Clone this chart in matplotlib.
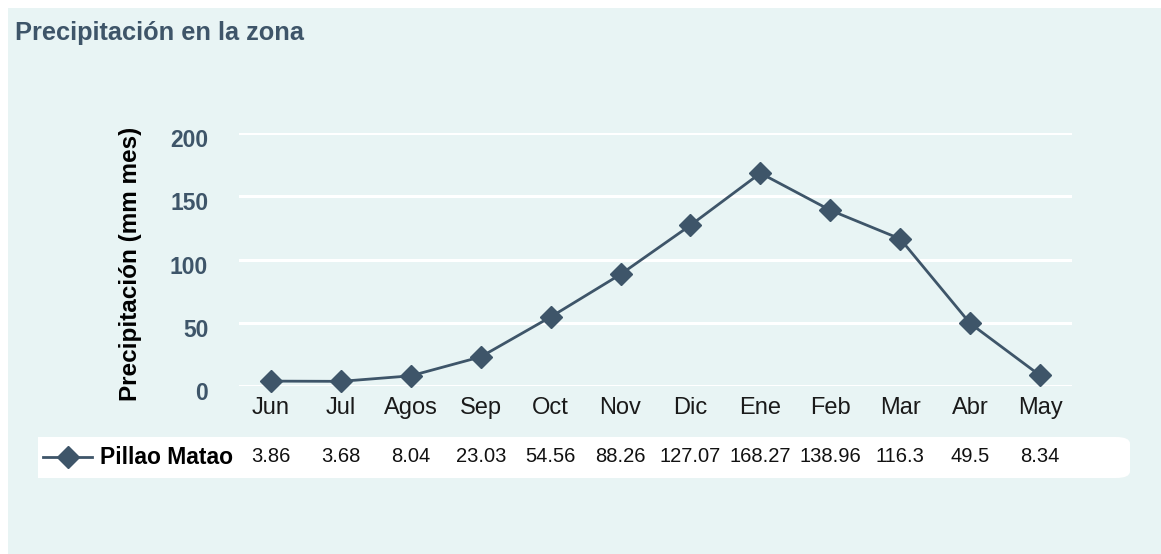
import matplotlib
matplotlib.use('Agg')
import matplotlib.pyplot as plt
from matplotlib import transforms
from matplotlib.patches import Rectangle, FancyBboxPatch
from matplotlib.lines import Line2D

# data
months = ['Jun', 'Jul', 'Agos', 'Sep', 'Oct', 'Nov', 'Dic', 'Ene', 'Feb', 'Mar', 'Abr', 'May']
precip = [3.86, 3.68, 8.04, 23.03, 54.56, 88.26, 127.07, 168.27, 138.96, 116.3, 49.5, 8.34]
value_labels = ['3.86', '3.68', '8.04', '23.03', '54.56', '88.26', '127.07',
                '168.27', '138.96', '116.3', '49.5', '8.34']
series_name = 'Pillao Matao'
yticks = [0, 50, 100, 150, 200]

W, H = 1161, 554
slate = '#3e5569'
panel = '#e8f4f4'

plt.rcParams['font.family'] = ['Liberation Sans', 'DejaVu Sans']

fig = plt.figure(figsize=(W / 100, H / 100), dpi=100)
fig.patch.set_facecolor('white')


def fx(px):
    return px / W


def fy(py):
    return (H - py) / H


# light panel behind everything
fig.patches.append(Rectangle((fx(8), 0), 1 - fx(8), fy(8), transform=fig.transFigure,
                             facecolor=panel, edgecolor='none', zorder=-10))

fig.text(fx(15), fy(33), 'Precipitación en la zona', fontsize=18.3, fontweight='bold',
         color=slate, va='center', ha='left')

# main axes
ax = fig.add_axes([fx(236), fy(386), fx(1075) - fx(236), fy(133) - fy(386)])
ax.set_facecolor('none')
x = list(range(len(months)))
ax.plot(x, precip, color=slate, lw=2, marker='D', markersize=11.5, clip_on=False, zorder=3)
ax.set_xlim(-0.5, len(months) - 0.5)
ax.set_ylim(0, 200)
ax.set_yticks(yticks)
for v in yticks:
    ax.axhline(v, xmin=0.005, xmax=0.994, color='white', lw=2.2, zorder=1)
for s in ax.spines.values():
    s.set_visible(False)
ax.set_xticks(x)
ax.set_xticklabels(months, fontsize=17, color='#1a1a1a')
ax.tick_params(axis='x', length=0, pad=8)
ax.tick_params(axis='y', length=0, pad=20, labelsize=16.5, labelcolor=slate)
down = transforms.ScaledTranslation(0, -5 / 100, fig.dpi_scale_trans)
for lab in ax.get_yticklabels():
    lab.set_fontweight('bold')
    lab.set_transform(lab.get_transform() + down)

fig.text(fx(130), fy(264), 'Precipitación (mm mes)', rotation=90, fontsize=17.5,
         fontweight='bold', color='black', ha='center', va='center')

# data table row
fig.patches.append(Rectangle((fx(38), fy(478)), fx(1100) - fx(38), fy(437) - fy(478),
                             transform=fig.transFigure, facecolor='white', edgecolor='none', zorder=1))
fig.patches.append(FancyBboxPatch((fx(1080), fy(478)), fx(1130) - fx(1080), fy(437) - fy(478),
                                  boxstyle='round,pad=0,rounding_size=0.012',
                                  transform=fig.transFigure, facecolor='white',
                                  edgecolor='none', zorder=1))
ty = fy(457)
fig.lines.append(Line2D([fx(43), fx(92)], [ty, ty], transform=fig.transFigure,
                        color=slate, lw=2, zorder=2))
fig.lines.append(Line2D([fx(68)], [ty], transform=fig.transFigure, color=slate,
                        marker='D', markersize=11.5, zorder=3))
fig.text(fx(100), ty, series_name, fontsize=16.5, fontweight='bold', color='black',
         ha='left', va='center', zorder=3)
trans = transforms.blended_transform_factory(ax.transData, fig.transFigure)
for xi, lab in zip(x, value_labels):
    fig.text(xi, ty, lab, transform=trans, fontsize=14.5, color='#111111',
             ha='center', va='center', zorder=3)

fig.savefig('out.png', dpi=100)
